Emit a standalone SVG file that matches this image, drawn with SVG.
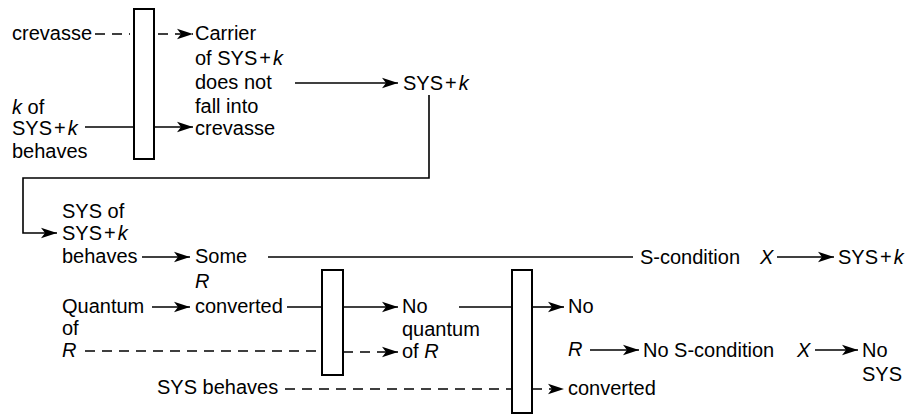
<svg xmlns="http://www.w3.org/2000/svg" width="908" height="415" viewBox="0 0 908 415">
<defs>
<marker id="ah" markerUnits="userSpaceOnUse" markerWidth="18" markerHeight="12" refX="16" refY="6" orient="auto">
<path d="M0,0.8 L16,6 L0,11.2 L4,6 Z" fill="#000"/>
</marker>
<style>
text{font-family:"Liberation Sans",Arial,sans-serif;font-size:20px;fill:#000}
.i{font-style:italic}
.ln{stroke:#000;stroke-width:1.6;fill:none}
.d{stroke-dasharray:10 7}
.a{marker-end:url(#ah)}
.box{fill:#fff;stroke:#000;stroke-width:2}
</style>
</defs>
<rect width="908" height="415" fill="#fff"/>
<g id="connectors">
<line class="ln d" x1="95" y1="34" x2="130" y2="34"/>
<line class="ln d a" x1="158" y1="34" x2="193" y2="34"/>
<line class="ln" x1="85" y1="127" x2="134" y2="127"/>
<line class="ln a" x1="154" y1="127" x2="193" y2="127"/>
<line class="ln a" x1="295" y1="83" x2="398" y2="83"/>
<polyline class="ln a" points="429,95 429,178 23,178 23,233 57,233"/>
<line class="ln a" x1="142" y1="257" x2="190" y2="257"/>
<line class="ln" x1="268" y1="257" x2="633" y2="257"/>
<line class="ln a" x1="777" y1="257" x2="834" y2="257"/>
<line class="ln a" x1="152" y1="307" x2="190" y2="307"/>
<line class="ln" x1="287" y1="307" x2="322" y2="307"/>
<line class="ln d" x1="85" y1="351" x2="322" y2="351"/>
<line class="ln a" x1="343" y1="307" x2="398" y2="307"/>
<line class="ln d a" x1="343" y1="352" x2="398" y2="352"/>
<line class="ln" x1="459" y1="307" x2="512" y2="307"/>
<line class="ln a" x1="532" y1="307" x2="564" y2="307"/>
<line class="ln d" x1="285" y1="389" x2="512" y2="389"/>
<line class="ln d a" x1="532" y1="389" x2="564" y2="389"/>
<line class="ln a" x1="590" y1="350" x2="639" y2="350"/>
<line class="ln a" x1="815" y1="350" x2="858" y2="350"/>
</g>
<g id="n-crevasse-left"><text x="12" y="40">crevasse</text></g>
<g id="n-kofsys"><text x="12" y="114"><tspan class="i">k</tspan> of</text><text x="12" y="135">SYS<tspan dx="2">+</tspan><tspan dx="2" class="i">k</tspan></text><text x="12" y="158">behaves</text></g>
<g id="n-box1"><rect class="box" x="134" y="9" width="20" height="150"/></g>
<g id="n-carrier"><text x="195" y="40">Carrier</text><text x="195" y="65">of SYS<tspan dx="2">+</tspan><tspan dx="2" class="i">k</tspan></text><text x="195" y="89">does not</text><text x="195" y="113">fall into</text><text x="195" y="135">crevasse</text></g>
<g id="n-sysk1"><text x="403" y="90">SYS<tspan dx="2">+</tspan><tspan dx="2" class="i">k</tspan></text></g>
<g id="n-sysof"><text x="62" y="218">SYS of</text><text x="62" y="240">SYS<tspan dx="2">+</tspan><tspan dx="2" class="i">k</tspan></text><text x="62" y="263">behaves</text></g>
<g id="n-someR"><text x="195" y="263">Some</text><text x="195" y="288" class="i">R</text><text x="195" y="313">converted</text></g>
<g id="n-scond"><text x="640" y="264">S-condition<tspan class="i" x="760">X</tspan></text></g>
<g id="n-sysk2"><text x="838" y="264">SYS<tspan dx="2">+</tspan><tspan dx="2" class="i">k</tspan></text></g>
<g id="n-quantum"><text x="62" y="313">Quantum</text><text x="62" y="335">of</text><text x="62" y="357" class="i">R</text></g>
<g id="n-box2"><rect class="box" x="322" y="270" width="21" height="105"/></g>
<g id="n-noquantum"><text x="402" y="313">No</text><text x="402" y="336">quantum</text><text x="402" y="358">of <tspan class="i">R</tspan></text></g>
<g id="n-box3"><rect class="box" x="512" y="270" width="20" height="143"/></g>
<g id="n-noR"><text x="568" y="313">No</text><text x="568" y="356" class="i">R</text><text x="568" y="395">converted</text></g>
<g id="n-sysbehaves"><text x="157" y="394">SYS behaves</text></g>
<g id="n-noscond"><text x="643" y="357">No S-condition<tspan class="i" x="797">X</tspan></text></g>
<g id="n-nosys"><text x="862" y="357">No</text><text x="862" y="381">SYS</text></g>
</svg>
